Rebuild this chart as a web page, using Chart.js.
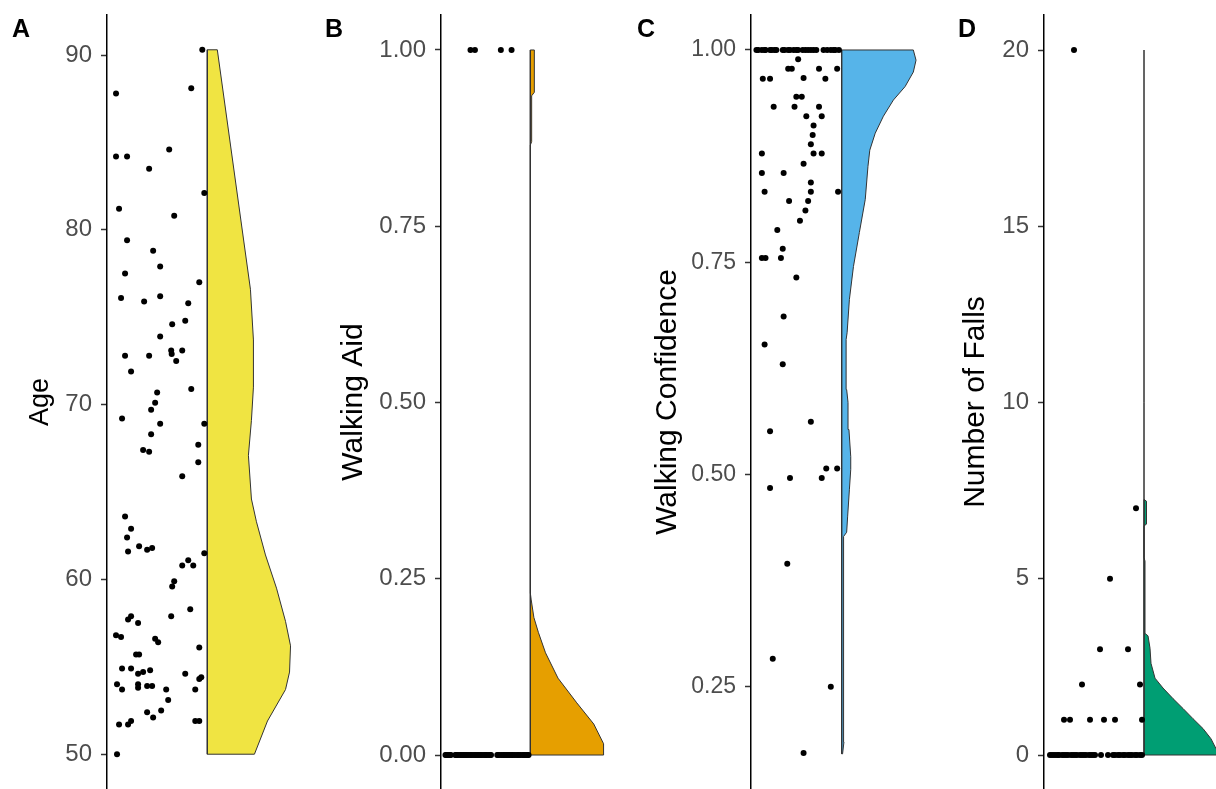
<!DOCTYPE html>
<html>
<head>
<meta charset="utf-8">
<title>Raincloud panels</title>
<script src="https://cdn.jsdelivr.net/npm/chart.js@4.4.1/dist/chart.umd.min.js"></script>
<style>
  html, body { margin: 0; padding: 0; background: #fff; }
  #figure { position: relative; width: 1216px; height: 789px; overflow: hidden; }
  .panel { position: absolute; top: 0; }
  .tag { position: absolute; top: 16px; font: bold 25px 'Liberation Sans', Arial, sans-serif; line-height: 1; color: #000; }
</style>
</head>
<body>
<div id="figure">
  <canvas id="panelA" class="panel" width="310" height="789" style="left:0px"></canvas>
  <canvas id="panelB" class="panel" width="310" height="789" style="left:310px"></canvas>
  <canvas id="panelC" class="panel" width="310" height="789" style="left:620px"></canvas>
  <canvas id="panelD" class="panel" width="286" height="789" style="left:930px"></canvas>
  <div class="tag" style="left:12px">A</div>
  <div class="tag" style="left:325px">B</div>
  <div class="tag" style="left:637px">C</div>
  <div class="tag" style="left:958px">D</div>
</div>
<script>
// Panel A - Age (jitter runs 0..1 to the left of the cloud base at x = 1)
const ageValues = [90.3, 88.1, 87.8, 84.2, 84.2, 84.6, 83.5, 82.1, 81.2, 80.8,
    79.4, 78.8, 77.9, 77.5, 77.0, 76.1, 76.2, 75.9, 75.8, 74.8,
    74.6, 73.9, 72.8, 72.8, 73.1, 72.9, 73.1, 72.5, 71.9, 70.7,
    70.9, 69.2, 70.1, 69.7, 68.9, 68.9, 68.3, 67.7, 67.4, 67.3,
    66.7, 65.9, 63.6, 62.9, 62.4, 61.6, 61.9, 61.7, 61.8, 61.5,
    60.8, 61.1, 60.8, 59.9, 59.6, 58.3, 57.9, 57.7, 57.9, 57.5,
    56.8, 56.7, 56.6, 56.4, 56.1, 55.7, 55.7, 54.9, 54.9, 54.8,
    54.7, 54.6, 54.6, 54.3, 54.4, 54.0, 54.0, 53.9, 53.9, 53.8,
    53.7, 53.7, 53.7, 53.1, 52.4, 52.5, 52.1, 51.9, 51.9, 51.7,
    51.7, 51.9, 50.0];
const ageJitter = [0.95, 0.84, 0.09, 0.09, 0.20, 0.62, 0.42, 0.97, 0.12, 0.67,
    0.20, 0.46, 0.53, 0.18, 0.92, 0.14, 0.53, 0.37, 0.81, 0.78,
    0.65, 0.53, 0.18, 0.42, 0.64, 0.645, 0.75, 0.69, 0.24, 0.50,
    0.84, 0.15, 0.48, 0.44, 0.53, 0.97, 0.44, 0.91, 0.36, 0.42,
    0.91, 0.75, 0.18, 0.24, 0.20, 0.21, 0.32, 0.40, 0.45, 0.97,
    0.75, 0.81, 0.86, 0.67, 0.65, 0.83, 0.64, 0.21, 0.24, 0.31,
    0.09, 0.14, 0.48, 0.51, 0.92, 0.29, 0.32, 0.15, 0.24, 0.43,
    0.36, 0.31, 0.78, 0.92, 0.94, 0.10, 0.31, 0.40, 0.45, 0.31,
    0.15, 0.59, 0.88, 0.61, 0.40, 0.54, 0.46, 0.88, 0.92, 0.12,
    0.21, 0.24, 0.10];
const ageDensityAt = [50.0, 51.9, 53.7, 54.7, 56.2, 57.6, 59.5, 61.4, 63.3, 64.6, 67.1, 69.1, 71.0, 73.7, 76.6, 90.3];
const ageDensityWidth = [0.47, 0.60, 0.78, 0.82, 0.83, 0.78, 0.69, 0.58, 0.49, 0.44, 0.41, 0.44, 0.46, 0.46, 0.43, 0.10];
const ageTicks = [50, 60, 70, 80, 90];

// Panel B - Walking Aid (0 / 1)
const aidJitterAtOne = [0.33, 0.38, 0.67, 0.79];
const aidJitterAtZero = [0.05, 0.06, 0.07, 0.08, 0.10, 0.11, 0.16, 0.17, 0.18, 0.20,
    0.22, 0.23, 0.25, 0.26, 0.28, 0.29, 0.31, 0.33, 0.34, 0.36,
    0.38, 0.39, 0.41, 0.42, 0.44, 0.45, 0.47, 0.49, 0.50, 0.51,
    0.53, 0.55, 0.56, 0.63, 0.64, 0.66, 0.68, 0.70, 0.71, 0.73,
    0.74, 0.76, 0.77, 0.79, 0.80, 0.82, 0.84, 0.86, 0.87, 0.89,
    0.91, 0.93, 0.94, 0.96, 0.97, 0.98];
const aidDensityAt = [0.0, 0.016, 0.044, 0.074, 0.109, 0.145, 0.174, 0.195, 0.22, 0.23, 0.865, 0.87, 0.935, 0.94, 1.0];
const aidDensityWidth = [0.82, 0.82, 0.71, 0.52, 0.31, 0.17, 0.09, 0.04, 0.01, 0.0, 0.0, 0.015, 0.015, 0.045, 0.045];
const aidTicks = [0, 0.25, 0.5, 0.75, 1];

// Panel C - Walking Confidence
const confJitterAtOne = [0.06, 0.08, 0.12, 0.15, 0.16, 0.21, 0.23, 0.26, 0.28,
    0.35, 0.37, 0.41, 0.43, 0.47, 0.50, 0.52, 0.57, 0.60, 0.63, 0.66, 0.69, 0.72,
    0.80, 0.84, 0.88, 0.91, 0.93, 0.97];
const confValues = [0.989, 0.978, 0.978, 0.978, 0.978, 0.966, 0.966, 0.967, 0.966, 0.945,
    0.945, 0.933, 0.933, 0.933, 0.922, 0.922, 0.911, 0.900, 0.889, 0.878,
    0.878, 0.878, 0.866, 0.855, 0.855, 0.844, 0.833, 0.833, 0.833, 0.822,
    0.822, 0.811, 0.799, 0.788, 0.766, 0.755, 0.755, 0.755, 0.732, 0.686,
    0.653, 0.630, 0.562, 0.551, 0.507, 0.507, 0.496, 0.496, 0.484, 0.395,
    0.283, 0.250, 0.172];
const confJitter = [0.52, 0.41, 0.45, 0.75, 0.95, 0.13, 0.21, 0.58, 0.82, 0.50,
    0.56, 0.25, 0.48, 0.75, 0.61, 0.78, 0.69, 0.68, 0.66, 0.12,
    0.69, 0.78, 0.58, 0.12, 0.36, 0.66, 0.15, 0.66, 0.96, 0.42,
    0.63, 0.60, 0.54, 0.29, 0.35, 0.12, 0.16, 0.33, 0.50, 0.36,
    0.15, 0.35, 0.66, 0.21, 0.83, 0.95, 0.43, 0.78, 0.21, 0.40,
    0.24, 0.88, 0.58];
const confDensityAt = [0.171, 0.185, 0.31, 0.39, 0.427, 0.432, 0.451, 0.482, 0.506, 0.521,
    0.553, 0.585, 0.60, 0.608, 0.659, 0.667, 0.706, 0.745, 0.785, 0.824,
    0.863, 0.882, 0.902, 0.922, 0.941, 0.957, 0.974, 0.988, 1.0];
const confDensityWidth = [0.01, 0.025, 0.02, 0.018, 0.025, 0.055, 0.066, 0.085, 0.10, 0.10,
    0.08, 0.07, 0.055, 0.048, 0.05, 0.06, 0.085, 0.13, 0.195, 0.26,
    0.29, 0.31, 0.37, 0.46, 0.57, 0.70, 0.79, 0.82, 0.79];
const confTicks = [0.25, 0.5, 0.75, 1];

// Panel D - Number of Falls
const fallValues = [20, 7, 5, 3, 3, 2, 2, 1, 1, 1, 1, 1, 1];
const fallJitter = [0.30, 0.92, 0.66, 0.56, 0.84, 0.38, 0.96, 0.20, 0.26, 0.46, 0.60, 0.71, 0.98];
const fallJitterAtZero = [0.06, 0.08, 0.10, 0.12, 0.14, 0.15, 0.18, 0.20, 0.22, 0.24,
    0.27, 0.29, 0.31, 0.33, 0.36, 0.38, 0.40, 0.42, 0.45, 0.47,
    0.49, 0.51, 0.57, 0.64, 0.69, 0.71, 0.74, 0.76, 0.79, 0.81,
    0.84, 0.86, 0.88, 0.91, 0.93, 0.96, 0.98];
const fallDensityAt = [0, 0.18, 0.46, 0.75, 1.03, 1.32, 1.6, 1.9, 2.18, 2.6, 3.03, 3.38, 3.45, 5.5, 5.6, 6.5, 6.55, 7.2, 7.25, 20];
const fallDensityWidth = [0.76, 0.72, 0.67, 0.59, 0.49, 0.39, 0.29, 0.19, 0.11, 0.07, 0.06, 0.04, 0.01, 0.01, 0.0, 0.0, 0.025, 0.025, 0.0, 0.0];
const fallTicks = [0, 5, 10, 15, 20];

Chart.defaults.font.family = "'Liberation Sans', Arial, Helvetica, sans-serif";

// closed half-violin outline: base -> density edge -> back down the base
function violinShape(at, width) {
    const pts = [{ x: 1, y: at[0] }];
    at.forEach((v, i) => pts.push({ x: 1 + width[i], y: v }));
    pts.push({ x: 1, y: at[at.length - 1] });
    pts.push({ x: 1, y: at[0] });
    return pts;
}

function drawPanel(id, p) {
    const ctx = document.getElementById(id).getContext('2d');
    return new Chart(ctx, {
        type: 'scatter',
        data: {
            datasets: [{
                data: p.points,
                pointRadius: 3,
                pointBackgroundColor: '#000',
                pointBorderWidth: 0,
                order: 0
            }, {
                type: 'line',
                data: violinShape(p.densAt, p.densWidth),
                fill: 'shape',
                backgroundColor: p.color,
                borderColor: '#333',
                borderWidth: 1,
                pointRadius: 0,
                tension: 0,
                order: 1
            }]
        },
        options: {
            responsive: false,
            animation: false,
            events: [],
            layout: { autoPadding: false, padding: { top: 15, left: 0, right: 0, bottom: 0 } },
            plugins: { legend: { display: false }, tooltip: { enabled: false } },
            scales: {
                x: { type: 'linear', min: 0, max: p.xMax, display: false },
                y: {
                    type: 'linear',
                    min: p.yMin,
                    max: p.yMax,
                    afterBuildTicks: s => { s.ticks = p.ticks.map(v => ({ value: v })); },
                    afterFit: s => { s.width = p.axisWidth; s.paddingTop = 0; s.paddingBottom = 0; },
                    border: { display: true, color: '#000', width: 1.5 },
                    grid: { drawOnChartArea: false, drawTicks: true, tickLength: 6, tickColor: '#333', tickWidth: 1.5 },
                    ticks: {
                        color: '#4d4d4d',
                        padding: 9,
                        font: { size: p.tickSize },
                        callback: v => v.toFixed(p.decimals)
                    },
                    title: {
                        display: true,
                        text: p.title,
                        color: '#000',
                        font: { size: p.titleSize },
                        padding: { top: p.titlePad, bottom: 0 }
                    }
                }
            }
        }
    });
}

const pointsA = ageValues.map((v, i) => ({ x: ageJitter[i], y: v }));
const pointsB = aidJitterAtOne.map(j => ({ x: j, y: 1 }))
    .concat(aidJitterAtZero.map(j => ({ x: j, y: 0 })));
const pointsC = confJitterAtOne.map(j => ({ x: j, y: 1 }))
    .concat(confValues.map((v, i) => ({ x: confJitter[i], y: v })));
const pointsD = fallValues.map((v, i) => ({ x: fallJitter[i], y: v }))
    .concat(fallJitterAtZero.map(j => ({ x: j, y: 0 })));

drawPanel('panelA', {
    points: pointsA, densAt: ageDensityAt, densWidth: ageDensityWidth, ticks: ageTicks,
    color: '#F0E442', title: 'Age', decimals: 0,
    yMin: 48.01, yMax: 92.29, xMax: 2.024, axisWidth: 107,
    tickSize: 24, titleSize: 27, titlePad: 24
});
drawPanel('panelB', {
    points: pointsB, densAt: aidDensityAt, densWidth: aidDensityWidth, ticks: aidTicks,
    color: '#E69F00', title: 'Walking Aid', decimals: 2,
    yMin: -0.0482, yMax: 1.0496, xMax: 2.004, axisWidth: 131,
    tickSize: 24, titleSize: 30, titlePad: 25.3
});
drawPanel('panelC', {
    points: pointsC, densAt: confDensityAt, densWidth: confDensityWidth, ticks: confTicks,
    color: '#56B4E9', title: 'Walking Confidence', decimals: 2,
    yMin: 0.1296, yMax: 1.0412, xMax: 1.974, axisWidth: 131,
    tickSize: 23, titleSize: 30, titlePad: 29.8
});
drawPanel('panelD', {
    points: pointsD, densAt: fallDensityAt, densWidth: fallDensityWidth, ticks: fallTicks,
    color: '#009E73', title: 'Number of Falls', decimals: 0,
    yMin: -0.9645, yMax: 20.993, xMax: 1.72, axisWidth: 114,
    tickSize: 24, titleSize: 30, titlePad: 27.8
});
</script>
</body>
</html>
